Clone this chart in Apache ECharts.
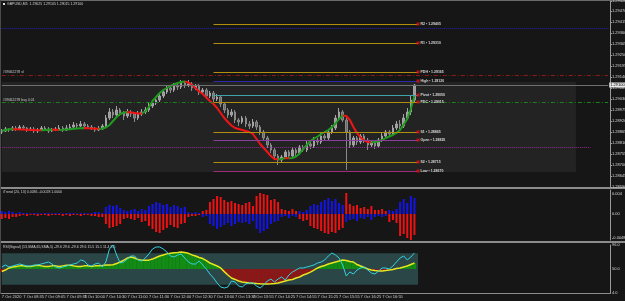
<!DOCTYPE html>
<html>
<head>
<meta charset="utf-8">
<title>GBPUSD,M5</title>
<script src="https://cdn.jsdelivr.net/npm/echarts@6/dist/echarts.min.js"></script>
<style>
html,body{margin:0;padding:0;background:#161616;}
#container{width:625px;height:301px;}
</style>
</head>
<body>
<div id="container"></div>
<script>
// M5 bars, [open, close, low, high]
var candles = [
 [1.28865,1.28870,1.28855,1.28880],[1.28870,1.28880,1.28865,1.28890],[1.28880,1.28875,1.28865,1.28885],[1.28875,1.28885,1.28870,1.28895],
 [1.28885,1.28880,1.28870,1.28895],[1.28880,1.28890,1.28875,1.28900],[1.28890,1.28885,1.28875,1.28900],[1.28885,1.28875,1.28865,1.28890],
 [1.28875,1.28880,1.28870,1.28890],[1.28880,1.28870,1.28860,1.28890],[1.28870,1.28875,1.28860,1.28885],[1.28875,1.28885,1.28870,1.28895],
 [1.28885,1.28880,1.28870,1.28895],[1.28880,1.28870,1.28860,1.28890],[1.28870,1.28875,1.28865,1.28885],[1.28875,1.28880,1.28870,1.28890],
 [1.28880,1.28885,1.28875,1.28900],[1.28885,1.28875,1.28865,1.28895],[1.28875,1.28885,1.28870,1.28900],[1.28885,1.28890,1.28875,1.28905],
 [1.28890,1.28900,1.28885,1.28915],[1.28900,1.28895,1.28885,1.28910],[1.28895,1.28905,1.28890,1.28920],[1.28905,1.28895,1.28885,1.28915],
 [1.28895,1.28890,1.28880,1.28905],[1.28890,1.28885,1.28875,1.28900],[1.28885,1.28875,1.28865,1.28890],[1.28875,1.28880,1.28870,1.28895],
 [1.28880,1.28895,1.28875,1.28905],[1.28895,1.28935,1.28890,1.28950],[1.28935,1.28965,1.28925,1.28985],[1.28965,1.28950,1.28935,1.28980],
 [1.28950,1.28975,1.28945,1.28995],[1.28975,1.28960,1.28945,1.28985],[1.28960,1.28945,1.28925,1.28970],[1.28945,1.28965,1.28935,1.28980],
 [1.28965,1.28955,1.28940,1.28975],[1.28955,1.28935,1.28915,1.28965],[1.28935,1.28955,1.28925,1.28970],[1.28955,1.28965,1.28945,1.28980],
 [1.28965,1.28975,1.28955,1.28990],[1.28975,1.28995,1.28965,1.29010],[1.28995,1.29010,1.28985,1.29025],[1.29010,1.29025,1.29000,1.29040],
 [1.29025,1.29045,1.29015,1.29060],[1.29045,1.29065,1.29035,1.29080],[1.29065,1.29085,1.29055,1.29100],[1.29085,1.29075,1.29060,1.29095],
 [1.29075,1.29095,1.29065,1.29110],[1.29095,1.29090,1.29075,1.29110],[1.29090,1.29110,1.29080,1.29125],[1.29110,1.29100,1.29085,1.29120],
 [1.29100,1.29105,1.29090,1.29125],[1.29105,1.29085,1.29070,1.29115],[1.29085,1.29095,1.29075,1.29105],[1.29095,1.29065,1.29050,1.29105],
 [1.29065,1.29075,1.29055,1.29085],[1.29075,1.29045,1.29030,1.29085],[1.29045,1.29060,1.29035,1.29070],[1.29060,1.29030,1.29015,1.29070],
 [1.29030,1.29040,1.29020,1.29055],[1.29040,1.29005,1.28990,1.29050],[1.29005,1.28975,1.28960,1.29015],[1.28975,1.28950,1.28935,1.28985],
 [1.28950,1.28965,1.28940,1.28980],[1.28965,1.28925,1.28910,1.28975],[1.28925,1.28915,1.28895,1.28935],[1.28915,1.28935,1.28905,1.28945],
 [1.28935,1.28905,1.28890,1.28945],[1.28905,1.28895,1.28880,1.28920],[1.28895,1.28915,1.28885,1.28930],[1.28915,1.28890,1.28875,1.28925],
 [1.28890,1.28865,1.28850,1.28900],[1.28865,1.28835,1.28820,1.28875],[1.28835,1.28800,1.28785,1.28845],[1.28800,1.28775,1.28760,1.28810],
 [1.28775,1.28745,1.28730,1.28785],[1.28745,1.28725,1.28700,1.28755],[1.28725,1.28740,1.28710,1.28750],[1.28740,1.28765,1.28730,1.28775],
 [1.28765,1.28745,1.28730,1.28775],[1.28745,1.28775,1.28735,1.28790],[1.28775,1.28760,1.28745,1.28785],[1.28760,1.28790,1.28750,1.28800],
 [1.28790,1.28775,1.28765,1.28800],[1.28775,1.28805,1.28765,1.28820],[1.28805,1.28795,1.28780,1.28815],[1.28795,1.28825,1.28785,1.28840],
 [1.28825,1.28815,1.28800,1.28835],[1.28815,1.28845,1.28805,1.28860],[1.28845,1.28835,1.28820,1.28855],[1.28835,1.28865,1.28825,1.28880],
 [1.28865,1.28885,1.28855,1.28900],[1.28885,1.28935,1.28875,1.28950],[1.28935,1.28965,1.28925,1.28985],[1.28965,1.28925,1.28915,1.28975],
 [1.28925,1.28865,1.28675,1.28935],[1.28865,1.28800,1.28785,1.28875],[1.28800,1.28835,1.28790,1.28845],[1.28835,1.28815,1.28800,1.28845],
 [1.28815,1.28845,1.28805,1.28855],[1.28845,1.28825,1.28810,1.28855],[1.28825,1.28800,1.28775,1.28835],[1.28800,1.28815,1.28790,1.28825],
 [1.28815,1.28795,1.28780,1.28825],[1.28795,1.28825,1.28785,1.28835],[1.28825,1.28845,1.28815,1.28860],[1.28845,1.28865,1.28835,1.28875],
 [1.28865,1.28855,1.28840,1.28875],[1.28855,1.28885,1.28845,1.28900],[1.28885,1.28905,1.28875,1.28920],[1.28905,1.28895,1.28880,1.28925],
 [1.28895,1.28935,1.28885,1.28955],[1.28935,1.28965,1.28925,1.28985],[1.28965,1.29025,1.28950,1.29050],[1.29025,1.29100,1.29015,1.29105]
];

// moving average drawn over the candles
var maLine = [
 1.28870,1.28875,1.288785,1.28880,1.28879,1.28878,1.28877,1.28876,1.28875,1.288745,
 1.28874,1.288735,1.28875,1.28876,1.28877,1.28876,1.28875,1.28876,1.288775,1.28879,
 1.28881,1.28883,1.28884,1.288845,1.288835,1.288825,1.288815,1.28881,1.288825,1.288875,
 1.28900,1.28920,1.28940,1.28955,1.289625,1.28965,1.289625,1.28960,1.28958,1.289575,
 1.289675,1.28990,1.29020,1.29040,1.29060,1.29075,1.29085,1.29095,1.291025,1.29110,
 1.29115,1.291175,1.291125,1.29100,1.29085,1.290675,1.29055,1.290375,1.29020,1.29005,
 1.28985,1.28960,1.28935,1.28915,1.288975,1.28885,1.28880,1.28875,1.28870,1.28865,
 1.28855,1.28830,1.28805,1.28785,1.28765,1.28745,1.28730,1.287275,1.28730,1.28735,
 1.287335,1.28735,1.287425,1.287575,1.28780,1.28800,1.28820,1.288325,1.288425,1.28855,
 1.28865,1.28875,1.28890,1.289075,1.28930,1.289475,1.28945,1.28925,1.28890,1.28860,
 1.288375,1.288225,1.28815,1.288135,1.28815,1.288185,1.28825,1.28835,1.288425,1.28850,
 1.28860,1.28875,1.289025,1.28930,1.28980,1.29045
];

// iTrend histogram
var trendBlue = [
 0.0006,0.0004,0.0006,0.0004,0.0002,0.0004,0.0002,0.0002,0.0001,0.0002,
 0.0002,0.0001,0.0002,0.0002,0.0001,0.0002,0.0002,0.0001,0.0002,0.0002,
 0.0002,0.0001,0.0002,0.0002,0.0001,0.0002,0.0004,0.0004,0.0002,0.0014,
 0.0018,0.0016,0.0018,0.0012,0.0008,0.0006,0.0008,0.001,0.0006,0.001,
 0.0008,0.0016,0.002,0.0024,0.0022,0.0018,0.002,0.0014,0.0018,0.0016,
 0.0012,0.0014,0.0004,0.0002,0.0004,0.0002,-0.0006,-0.0004,-0.002,-0.0024,
 -0.003,-0.0026,-0.0022,-0.0018,-0.0024,-0.002,-0.0016,-0.0018,-0.0016,-0.002,
 -0.0014,-0.003,-0.0038,-0.0034,-0.003,-0.002,-0.0016,-0.0014,-0.0006,-0.0004,
 -0.0008,-0.0004,-0.0006,0.0006,0.0004,0.0008,0.0016,0.002,0.0018,0.0024,
 0.0028,0.0032,0.0026,0.003,0.0022,0.0018,-0.0016,-0.0012,-0.001,-0.0014,
 -0.0008,-0.001,-0.0006,-0.0012,-0.0006,-0.0004,-0.0006,-0.0004,0.0008,0.0006,
 0.001,0.0024,0.003,0.0022,0.0036,0.0032
];
var trendRed = [
 -0.001,-0.0008,-0.001,-0.0006,-0.0006,-0.0004,-0.0002,-0.0004,-0.0002,-0.0002,
 -0.0004,-0.0002,-0.0002,-0.0004,-0.0002,-0.0002,-0.0002,-0.0004,-0.0002,-0.0004,
 -0.0002,-0.0002,-0.0004,-0.0002,-0.0002,-0.0004,-0.0004,-0.0006,-0.0006,-0.002,
 -0.0028,-0.0026,-0.0024,-0.002,-0.001,-0.0008,-0.001,-0.0012,-0.0008,-0.0016,
 -0.0014,-0.0024,-0.003,-0.0036,-0.0038,-0.0032,-0.0028,-0.0022,-0.0026,-0.0028,
 -0.002,-0.0018,-0.0006,-0.0004,-0.0004,-0.0002,0.0006,0.0008,0.0024,0.003,
 0.0036,0.0034,0.0028,0.0024,0.0026,0.0022,0.002,0.0018,0.0022,0.0024,
 0.0016,0.0036,0.0042,0.004,0.0038,0.0028,0.003,0.0024,0.001,0.0008,
 0.0006,0.001,0.0006,-0.001,-0.0014,-0.0012,-0.0024,-0.0028,-0.003,-0.0034,
 -0.0038,-0.004,-0.0036,-0.0038,-0.0032,-0.0028,0.0042,0.002,0.0016,0.0018,
 0.0012,0.0014,0.001,0.0016,0.0008,0.0008,0.001,0.0006,-0.0016,-0.0012,
 -0.0018,-0.0044,-0.004,-0.0048,-0.0052,-0.0042
];

// RSI (cyan) and its signal (yellow)
var rsiLine = [
 53.8,57.7,53.8,55.7,57.7,59.6,57.7,55.7,55.7,57.7,
 57.7,59.6,61.5,63.4,59.6,53.8,51.9,53.8,55.7,57.7,
 59.6,61.5,67.3,65.3,57.7,55.7,59.6,61.5,53.8,63.4,
 88.3,96,76.8,61.5,63.4,69.2,74.9,74.9,67.3,65.3,
 71.1,78.8,88.3,92.2,92.2,88.3,82.6,74.9,73,76.8,
 78.8,71.1,63.4,59.6,59.6,65.3,57.7,50,40.4,32.8,
 23.2,15.5,13.6,15.5,27,25.1,17.4,15.5,21.3,23.2,
 23.2,17.4,13.6,19.3,27,30.8,25.1,30.8,34.7,28.9,
 38.5,44.3,48.1,51.9,51.9,53.8,55.7,57.7,61.5,63.4,
 67.3,74.9,80.7,76.8,71.1,57.7,36.6,44.3,40.4,48.1,
 51.9,53.8,48.1,42.3,40.4,46.2,51.9,51.9,50,55.7,
 63.4,71.1,74.9,67.3,73,80.7
];
var signalLine = [
 45.2,48,52,54,55,
 56,56,55,55,56,57,56,55,55,56,56,55,56,57,57,56,55,55,56,56,55,56,56,
 56.7,57.7,57.7,58,
 60.5,63.4,67,71,73,71,68,67,67,
 67,69,72,75,77,79,80,81,81.5,82.5,
 81.5,80,77,75,72,70,66,61.5,58.6,55.7,
 52,45,38.5,32.7,30,27,25,24,23,22.6,
 22,21.6,21.3,21.3,21.6,22,23,25,27,29,
 30,32.7,34.7,38.5,41,44,48,52,54.8,56.7,
 59.6,61.5,63.4,65.3,67.2,66.3,64.4,63.4,58.6,55.7,
 52.8,50,48.1,47,46.2,46.2,47,48.1,49,51,
 52,54,55.7,58.6,61.5
];
var rsiMid = 50;
var rsiBand = [20, 80];

// daily levels
var levelNames  = ['R2', 'R1', 'PDH', 'High', 'Pivot', 'PDC', 'S1', 'Open', 'S2', 'Low'];
var levelPrices = [1.29405, 1.29310, 1.29165, 1.29120, 1.29050, 1.29015, 1.28865, 1.28825, 1.28715, 1.28670];
var levelStart = 59, levelEnd = 116;

// order lines
var tpPrice = 1.29385;
var slPrice = 1.29150;
var buyPrice = 1.29012;
var midPrice = 1.28790;
var bidPrice = 1.29100;
var sessionBox = [1.29115, 1.28665];

var tickIndex  = [0, 6, 12, 18, 23, 29, 35, 41, 47, 53, 59, 65, 70, 76, 82, 88, 94, 100, 106, 111];
var tickLabels = ['7 Oct 2020', '7 Oct 08:35', '7 Oct 09:05', '7 Oct 09:35', '7 Oct 10:00', '7 Oct 10:30',
                  '7 Oct 11:00', '7 Oct 11:30', '7 Oct 12:00', '7 Oct 12:30', '7 Oct 13:00', '7 Oct 13:30',
                  '7 Oct 13:55', '7 Oct 14:25', '7 Oct 14:55', '7 Oct 15:25', '7 Oct 15:55', '7 Oct 16:25',
                  '7 Oct 16:55', '7 Oct 17:20'];
var barCount = 170;

var categories = [];
for (var i = 0; i < barCount; i++) {
    var t = 8 * 60 + 5 + 5 * i;
    var h = Math.floor(t / 60) % 24, m = t % 60;
    categories.push('7 Oct ' + (h < 10 ? '0' : '') + h + ':' + (m < 10 ? '0' : '') + m);
}

// red / green sections of the MA
var maPieces = [];
for (var i = 0; i < maLine.length - 1; i++) {
    var col = maLine[i + 1] >= maLine[i] ? '#1e9a1e' : '#f01414';
    var last = maPieces[maPieces.length - 1];
    if (last && last.color === col) { last.lt = i + 1; }
    else { maPieces.push({gte: i, lt: i + 1, color: col}); }
}
maPieces[maPieces.length - 1].lte = maLine.length;
delete maPieces[maPieces.length - 1].lt;

var rsiHist = signalLine.map(function (v) { return +(v - rsiMid).toFixed(2); });

var levelColors = {R2:'#b08f10', R1:'#b08f10', PDH:'#b08f10', High:'#2a2aa8', Pivot:'#3ea2aa',
                   PDC:'#b08f10', S1:'#b08f10', Open:'#8b3d9c', S2:'#b08f10', Low:'#9c2c7a'};

var levelLines = levelPrices.map(function (p, k) {
    return [{coord: [levelStart, p], lineStyle: {color: levelColors[levelNames[k]]}},
            {coord: [levelEnd, p]}];
});
var levelMarks = levelPrices.map(function (p, k) {
    return {name: levelNames[k], value: [levelEnd, p]};
});

// horizontal line across the chart, optional text
function hline(p, x1, color, dash, text, labelPos) {
    var first = {coord: [0, p], lineStyle: {color: color, type: dash, width: 1}};
    if (text) {
        first.label = labelPos === 'end'
            ? {show: true, position: 'end', distance: 1, formatter: text, fontSize: 4, color: '#000',
               backgroundColor: '#e8e8e8', padding: [1, 1, 0, 1]}
            : {show: true, position: 'insideStartTop', distance: 1, formatter: text, fontSize: 3.5, color: '#c8c8c8'};
    }
    return [first, {coord: [x1, p]}];
}

var font = 'Liberation Sans';
var dom = document.getElementById('container');
var myChart = echarts.init(dom);

var option = {
    animation: false,
    backgroundColor: '#161616',
    textStyle: {fontFamily: font},
    grid: [
        {left: 0, right: 15, top: 1, height: 186, outerBoundsMode: 'none'},
        {left: 0, right: 15, top: 190, height: 50, outerBoundsMode: 'none'},
        {left: 0, right: 15, top: 245, height: 48, outerBoundsMode: 'none'}
    ],
    visualMap: [{
        type: 'piecewise', show: false, dimension: 0, seriesIndex: 2,
        pieces: maPieces, outOfRange: {color: '#1e9a1e'}
    }],
    xAxis: [
        {type: 'category', gridIndex: 0, data: categories, show: false},
        {type: 'category', gridIndex: 1, data: categories, show: false},
        {type: 'category', gridIndex: 2, data: categories,
         axisLine: {show: false}, axisTick: {show: false},
         axisLabel: {
             interval: function (idx) { return tickIndex.indexOf(idx) >= 0; },
             formatter: function (v, idx) { return tickLabels[tickIndex.indexOf(idx)]; },
             align: 'left', fontSize: 4, color: '#d0d0d0', margin: 2
         }}
    ],
    yAxis: [
        {type: 'value', gridIndex: 0, position: 'right', min: 1.28590, max: 1.29520, interval: 0.00055,
         axisLine: {show: true, lineStyle: {color: '#9a9a9a', width: 1}},
         axisTick: {show: true, length: 2, lineStyle: {color: '#9a9a9a'}},
         splitLine: {show: false},
         axisLabel: {fontSize: 4, color: '#d8d8d8', margin: 2, formatter: function (v) { return v.toFixed(5); }}},
        {type: 'value', gridIndex: 1, position: 'right', min: -0.0052, max: 0.0048, interval: 0.0004,
         axisLine: {show: true, lineStyle: {color: '#9a9a9a', width: 1}},
         axisTick: {show: false}, splitLine: {show: false},
         axisLabel: {fontSize: 4, color: '#d8d8d8', margin: 2, formatter: function (v) {
             if (Math.abs(v - 0.004) < 1e-7) return '0.004';
             if (Math.abs(v) < 1e-7) return '0.00';
             if (Math.abs(v + 0.0048) < 1e-7) return '-0.0048';
             return '';
         }}},
        {type: 'value', gridIndex: 2, position: 'right', min: 4, max: 96, interval: 46,
         axisLine: {show: true, lineStyle: {color: '#9a9a9a', width: 1}},
         axisTick: {show: false}, splitLine: {show: false},
         axisLabel: {fontSize: 4, color: '#d8d8d8', margin: 2, formatter: function (v) { return v.toFixed(1); }}},
        {type: 'value', gridIndex: 2, min: -46, max: 46, show: false}
    ],
    series: [
        {   // session box + full width order lines
            type: 'line', xAxisIndex: 0, yAxisIndex: 0, data: [], z: 1, silent: true,
            markArea: {silent: true, itemStyle: {color: '#232323'},
                data: [[{coord: [0, sessionBox[0]]}, {coord: [160, sessionBox[1]]}]]},
            markLine: {silent: true, symbol: 'none', animation: false,
                label: {show: false},
                data: [
                    hline(tpPrice, 169, '#2323b4', [1, 1]),
                    hline(slPrice, 169, '#8c1c1c', [4, 2, 1, 2], '#39462278 sl'),
                    hline(buyPrice, 169, '#1f7f1f', [4, 2, 1, 2], '#39462278 buy 0.01'),
                    hline(midPrice, 164, '#8e2c8e', [1, 1]),
                    hline(bidPrice, 169, '#6e6e6e', 'solid', bidPrice.toFixed(5), 'end')
                ]}
        },
        {
            type: 'candlestick', xAxisIndex: 0, yAxisIndex: 0, data: candles, z: 3,
            barWidth: 2,
            itemStyle: {color: '#9c9c9c', color0: '#6a6a6a', borderColor: '#a4a4a4', borderColor0: '#8a8a8a', borderWidth: 1}
        },
        {
            type: 'line', xAxisIndex: 0, yAxisIndex: 0, data: maLine, z: 4,
            showSymbol: false, smooth: false, lineStyle: {width: 2}
        },
        {   // pivot levels
            type: 'line', xAxisIndex: 0, yAxisIndex: 0, data: [], z: 2, silent: true,
            markLine: {silent: true, symbol: 'none', label: {show: false},
                lineStyle: {type: 'solid', width: 1}, data: levelLines}
        },
        {
            type: 'scatter', xAxisIndex: 0, yAxisIndex: 0, data: levelMarks, z: 5, silent: true,
            symbol: 'rect', symbolSize: [3, 3], itemStyle: {color: '#e01010'},
            label: {show: true, position: 'right', distance: 1, fontSize: 3.5, fontWeight: 'bold', color: '#ffffff',
                formatter: function (p) { return p.name + ' \u2022 ' + p.value[1].toFixed(5); }}
        },
        {
            type: 'bar', xAxisIndex: 1, yAxisIndex: 1, data: trendBlue, barWidth: 2, barGap: '-100%',
            itemStyle: {color: '#1414e6'}
        },
        {
            type: 'bar', xAxisIndex: 1, yAxisIndex: 1, data: trendRed, barWidth: 2, barGap: '-100%',
            itemStyle: {color: '#ee1212'}
        },
        {   // RSI band
            type: 'line', xAxisIndex: 2, yAxisIndex: 2, data: [], z: 1, silent: true,
            markArea: {silent: true, itemStyle: {color: '#2a4646'},
                data: [[{coord: [0, rsiBand[1]]}, {coord: [116, rsiBand[0]]}]]}
        },
        {
            type: 'bar', xAxisIndex: 2, yAxisIndex: 3, data: rsiHist, barCategoryGap: '0%', z: 2,
            itemStyle: {color: function (p) { return p.value >= 0 ? '#128c12' : '#8e1616'; }}
        },
        {
            type: 'line', xAxisIndex: 2, yAxisIndex: 2, data: signalLine, z: 3,
            showSymbol: false, lineStyle: {color: '#e6e61e', width: 1.5}
        },
        {
            type: 'line', xAxisIndex: 2, yAxisIndex: 2, data: rsiLine, z: 4,
            showSymbol: false, lineStyle: {color: '#34d2e2', width: 1}
        }
    ],
    graphic: [
        {type: 'rect', left: 0, top: 0, shape: {width: 625, height: 1}, style: {fill: '#6a6a6a'}},
        {type: 'rect', left: 0, top: 187, shape: {width: 625, height: 2}, style: {fill: '#8c8c8c'}},
        {type: 'rect', left: 0, top: 241, shape: {width: 625, height: 2}, style: {fill: '#8c8c8c'}},
        {type: 'rect', left: 0, top: 293, shape: {width: 611, height: 1}, style: {fill: '#8c8c8c'}},
        {type: 'rect', left: 0, top: 0, shape: {width: 1, height: 294}, style: {fill: '#4a4a4a'}},
        {type: 'rect', left: 3, top: 3, shape: {width: 2, height: 2}, style: {fill: '#e0e0e0'}},
        {type: 'text', left: 7, top: 2, style: {text: 'GBPUSD,M5  1.29025 1.29105 1.29015 1.29100', fill: '#d0d0d0', fontSize: 3.5, fontFamily: font}},
        {type: 'text', left: 3, top: 190, style: {text: 'iTrend (20, 13) 0.0036 -0.0028 1.0000', fill: '#d0d0d0', fontSize: 3.5, fontFamily: font}},
        {type: 'text', left: 3, top: 245, style: {text: 'RSI(Signal) (13,SMA,65,SMA,5) -29.6 29.6 -29.6 29.6 15.5 15.1 11.4 8.5', fill: '#d0d0d0', fontSize: 3.5, fontFamily: font}}
    ]
};

if (option && typeof option === "object") {
    myChart.setOption(option, true);
}
</script>
</body>
</html>
